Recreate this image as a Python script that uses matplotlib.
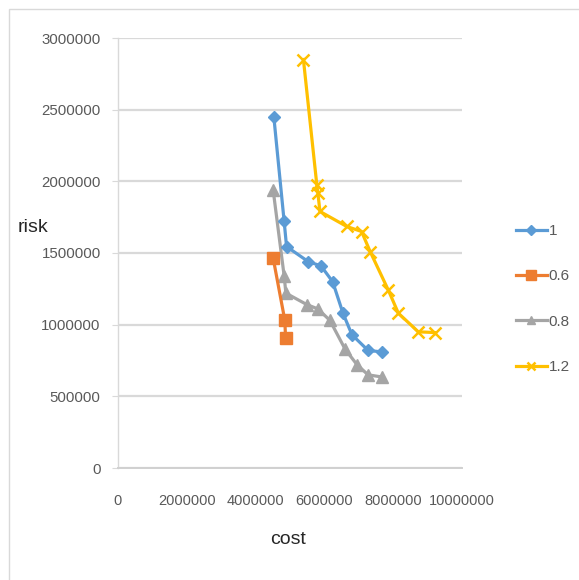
import matplotlib
matplotlib.use("Agg")
import matplotlib.pyplot as plt
from matplotlib.patches import Rectangle
from matplotlib.ticker import FixedLocator, FuncFormatter

plt.rcParams['font.family'] = ['Liberation Sans', 'DejaVu Sans']

# Pareto fronts (cost vs. risk) for each weighting factor
cost_1 = [4.53e6, 4.83e6, 4.90e6, 5.53e6, 5.90e6, 6.24e6, 6.54e6, 6.80e6, 7.27e6, 7.67e6]
risk_1 = [2.45e6, 1.72e6, 1.545e6, 1.44e6, 1.41e6, 1.30e6, 1.08e6, 0.93e6, 0.82e6, 0.81e6]

cost_06 = [4.51e6, 4.85e6, 4.87e6]
risk_06 = [1.465e6, 1.03e6, 0.91e6]

cost_08 = [4.51e6, 4.83e6, 4.88e6, 5.49e6, 5.81e6, 6.16e6, 6.60e6, 6.95e6, 7.27e6, 7.67e6]
risk_08 = [1.94e6, 1.34e6, 1.22e6, 1.14e6, 1.11e6, 1.03e6, 0.83e6, 0.72e6, 0.65e6, 0.635e6]

cost_12 = [5.39e6, 5.78e6, 5.81e6, 5.87e6, 6.65e6, 7.08e6, 7.33e6, 7.86e6, 8.15e6, 8.73e6, 9.22e6]
risk_12 = [2.85e6, 1.975e6, 1.92e6, 1.79e6, 1.685e6, 1.65e6, 1.51e6, 1.24e6, 1.08e6, 0.95e6, 0.945e6]

series_labels = ["1", "0.6", "0.8", "1.2"]
x_ticks = [0, 2000000, 4000000, 6000000, 8000000, 10000000]
y_ticks = [0, 500000, 1000000, 1500000, 2000000, 2500000, 3000000]

fig = plt.figure(figsize=(5.79, 5.80), dpi=100)
fig.patch.set_facecolor("white")

# chart-area border
fig.patches.append(Rectangle((9 / 579, -0.05), 1.2, (1 - 9 / 580) + 0.05,
                             transform=fig.transFigure, fill=False,
                             edgecolor="#d9d9d9", linewidth=1.0))

ax = fig.add_axes([118 / 579, 1 - 468 / 580, (462 - 118) / 579, (468 - 38) / 580])

lw = 2.3
ax.plot(cost_1, risk_1, color="#5b9bd5", lw=lw, marker="D", ms=6.5,
        label=series_labels[0], zorder=4)
ax.plot(cost_06, risk_06, color="#ed7d31", lw=lw, marker="s", ms=8.5,
        label=series_labels[1], zorder=5)
ax.plot(cost_08, risk_08, color="#a5a5a5", lw=lw, marker="^", ms=8,
        label=series_labels[2], zorder=3)
ax.plot(cost_12, risk_12, color="#ffc000", lw=lw, marker="x", ms=8, mew=1.8,
        label=series_labels[3], zorder=3)

ax.set_xlim(0, 10000000)
ax.set_ylim(0, 3000000)
ax.xaxis.set_major_locator(FixedLocator(x_ticks))
ax.yaxis.set_major_locator(FixedLocator(y_ticks))
fmt = FuncFormatter(lambda v, p: f"{int(v)}")
ax.xaxis.set_major_formatter(fmt)
ax.yaxis.set_major_formatter(fmt)

ax.grid(axis="y", color="#d9d9d9", lw=1.6)
ax.set_axisbelow(True)
for s in ("top", "right"):
    ax.spines[s].set_visible(False)
ax.spines["left"].set_color("#d9d9d9")
ax.spines["left"].set_linewidth(1.0)
ax.spines["bottom"].set_color("#d0d0d0")
ax.spines["bottom"].set_linewidth(1.4)

ax.tick_params(axis="y", length=4, color="#d9d9d9", labelsize=10.8,
               labelcolor="#595959", pad=8.5)
ax.tick_params(axis="x", length=0, labelsize=10.5, labelcolor="#595959", pad=18.5)

fig.text(33 / 579, 1 - 228 / 580, "risk", fontsize=14, color="#262626",
         ha="center", va="center")
fig.text(288 / 579, 1 - 540 / 580, "cost", fontsize=14, color="#262626",
         ha="center", va="center")

handles, labels = ax.get_legend_handles_labels()
leg = fig.legend(handles, labels, loc="upper left",
                 bbox_to_anchor=(516 / 579, 1 - 224 / 580),
                 frameon=False, fontsize=11, labelcolor="#595959",
                 handlelength=2.0, handletextpad=0.15, labelspacing=2.05,
                 borderpad=0, borderaxespad=0, markerscale=0.8)

fig.savefig("out.png", dpi=100)
